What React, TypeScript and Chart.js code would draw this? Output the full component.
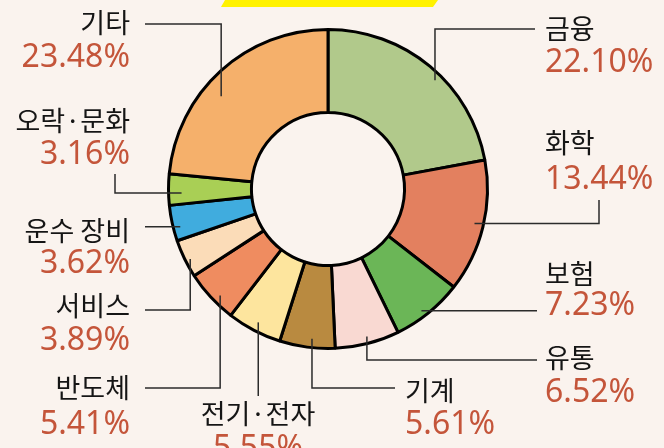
import React, { useEffect, useRef } from 'react';
import { Chart, registerables } from 'chart.js';

Chart.register(...registerables);

const categories = ['금융', '화학', '보험', '유통', '기계', '전기·전자', '반도체', '서비스', '운수 장비', '오락·문화', '기타'];
const shares = [22.10, 13.44, 7.23, 6.52, 5.61, 5.55, 5.41, 3.89, 3.62, 3.16, 23.48];
const sliceColors = ['#b1c98b', '#e3805f', '#6bb657', '#f9d9d2', '#b98a40', '#fde59e', '#ef8c60', '#fbdcb8', '#40acde', '#a9cf55', '#f5b06b'];

type Lay = {
  side: 'left' | 'right' | 'center';
  tx: number;
  nameY: number;
  pctY: number;
  t: number;
  inset: number;
  path: 'v' | 'h' | 'vh' | 'hv';
  ex?: number;
  ey?: number;
};

const labelLayout: Lay[] = [
  { side: 'right', tx: 545, nameY: 29, pctY: 63, t: 0.56, inset: 7, path: 'vh', ex: 535, ey: 29 },
  { side: 'right', tx: 545, nameY: 143, pctY: 180, t: 0.49, inset: 9, path: 'hv', ex: 599, ey: 200 },
  { side: 'right', tx: 545, nameY: 274, pctY: 306, t: 0.56, inset: 6, path: 'h', ex: 537 },
  { side: 'right', tx: 545, nameY: 358, pctY: 393, t: 0.48, inset: 7, path: 'vh', ex: 537, ey: 360 },
  { side: 'right', tx: 405, nameY: 391, pctY: 425, t: 0.43, inset: 9, path: 'vh', ex: 395, ey: 388 },
  { side: 'center', tx: 258, nameY: 414, pctY: 449, t: 0.5, inset: 9, path: 'v', ey: 396 },
  { side: 'left', tx: 130, nameY: 388, pctY: 425, t: 0.4, inset: 8, path: 'vh', ex: 145, ey: 388 },
  { side: 'left', tx: 130, nameY: 306, pctY: 341, t: 0.43, inset: 5, path: 'vh', ex: 145, ey: 310 },
  { side: 'left', tx: 130, nameY: 231, pctY: 264, t: 0.35, inset: 7, path: 'h', ex: 145 },
  { side: 'left', tx: 130, nameY: 121, pctY: 155, t: 0.38, inset: 13, path: 'hv', ex: 115, ey: 174 },
  { side: 'left', tx: 130, nameY: 23, pctY: 58, t: 0.42, inset: 18, path: 'vh', ex: 145, ey: 24 },
];

const BG = '#faf3ee';

const decorPlugin = {
  id: 'decor',
  beforeDraw(chart: any) {
    const ctx = chart.ctx;
    ctx.save();
    ctx.fillStyle = BG;
    ctx.fillRect(0, 0, chart.width, chart.height);
    ctx.fillStyle = '#fff200';
    ctx.beginPath();
    ctx.moveTo(225, 0);
    ctx.lineTo(438, 0);
    ctx.lineTo(433, 7);
    ctx.lineTo(221, 7);
    ctx.closePath();
    ctx.fill();
    ctx.restore();
  },
};

const labelPlugin = {
  id: 'outLabels',
  afterDatasetsDraw(chart: any) {
    const ctx = chart.ctx;
    const meta = chart.getDatasetMeta(0);
    ctx.save();
    meta.data.forEach((arc: any, i: number) => {
      const lay = labelLayout[i];
      const p = arc.getProps(['x', 'y', 'startAngle', 'endAngle', 'outerRadius'], true);
      const ang = p.startAngle + (p.endAngle - p.startAngle) * lay.t;
      const r = p.outerRadius - lay.inset;
      const ax = p.x + Math.cos(ang) * r;
      const ay = p.y + Math.sin(ang) * r;
      ctx.strokeStyle = '#2b2b2b';
      ctx.lineWidth = 1.5;
      ctx.beginPath();
      ctx.moveTo(ax, ay);
      if (lay.path === 'v') {
        ctx.lineTo(ax, lay.ey);
      } else if (lay.path === 'h') {
        ctx.lineTo(lay.ex, ay);
      } else if (lay.path === 'vh') {
        ctx.lineTo(ax, lay.ey);
        ctx.lineTo(lay.ex, lay.ey);
      } else {
        ctx.lineTo(lay.ex, ay);
        ctx.lineTo(lay.ex, lay.ey);
      }
      ctx.stroke();

      ctx.textAlign = lay.side === 'left' ? 'right' : lay.side === 'right' ? 'left' : 'center';
      ctx.textBaseline = 'middle';
      ctx.fillStyle = '#151515';
      ctx.font = '400 27px "Noto Sans CJK KR", "Noto Sans", sans-serif';
      ctx.fillText(chart.data.labels[i], lay.tx, lay.nameY);
      ctx.fillStyle = '#c4553a';
      ctx.font = '400 32px "Noto Sans", "Noto Sans CJK KR", sans-serif';
      ctx.fillText(shares[i].toFixed(2) + '%', lay.tx, lay.pctY);
    });
    ctx.restore();
  },
};

export default function App() {
  const ref = useRef<HTMLCanvasElement>(null);
  useEffect(() => {
    document.body.style.margin = '0';
    document.body.style.background = BG;
    const chart = new Chart(ref.current as HTMLCanvasElement, {
      type: 'doughnut',
      data: {
        labels: categories,
        datasets: [
          {
            data: shares,
            backgroundColor: sliceColors,
            borderColor: '#000000',
            borderWidth: 3,
          },
        ],
      },
      options: {
        responsive: false,
        animation: false,
        events: [],
        cutout: '48%',
        layout: { padding: { left: 167, right: 175, top: 28, bottom: 98 } },
        plugins: { legend: { display: false }, tooltip: { enabled: false } },
      },
      plugins: [decorPlugin, labelPlugin],
    } as any);
    return () => chart.destroy();
  }, []);
  return (
    <div style={{ width: 664, height: 448 }}>
      <canvas ref={ref} width={664} height={448} style={{ display: 'block', width: 664, height: 448 }} />
    </div>
  );
}
